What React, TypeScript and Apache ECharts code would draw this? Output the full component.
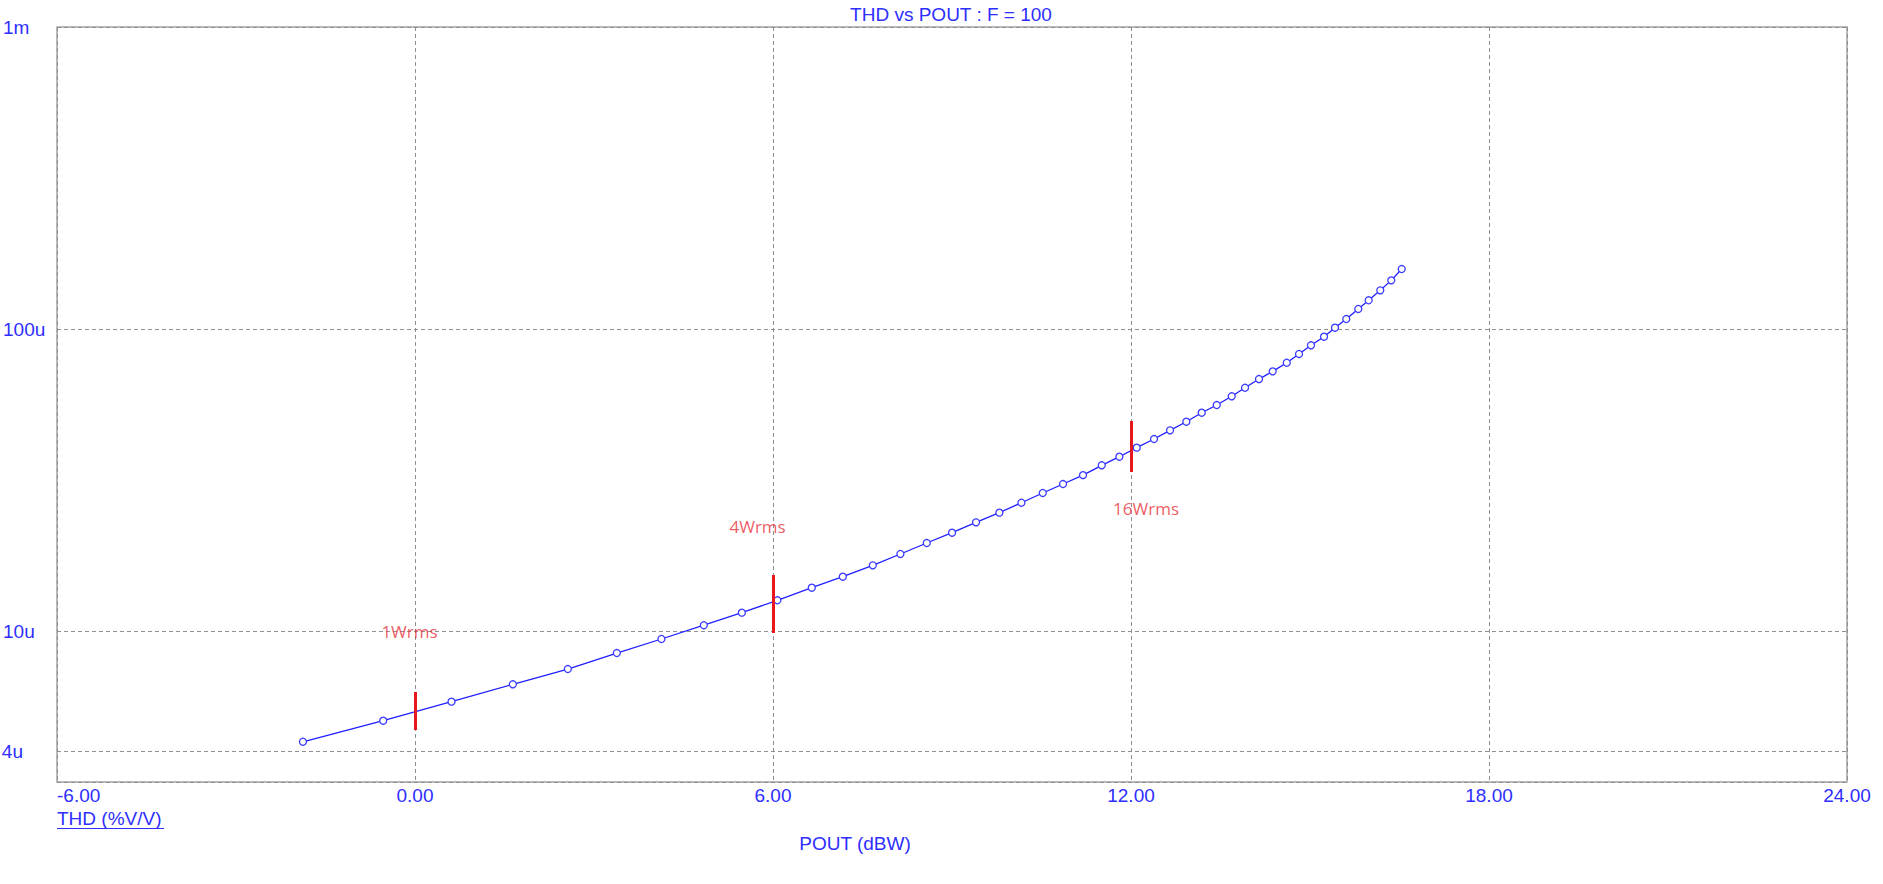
import React, { useEffect, useRef } from "react";
import * as echarts from "echarts";

// ---- data ----
const pout = [
  -1.878, -0.533, 0.612, 1.64, 2.562, 3.383, 4.13, 4.841, 5.478, 6.074,
  6.65, 7.17, 7.673, 8.135, 8.577, 9.001, 9.403, 9.794, 10.163, 10.521,
  10.861, 11.196, 11.51, 11.805, 12.096, 12.386, 12.654, 12.927, 13.185, 13.437,
  13.688, 13.911, 14.145, 14.375, 14.61, 14.816, 15.017, 15.235, 15.419, 15.608,
  15.809, 15.983, 16.178, 16.362, 16.537,
];
const thd = [
  4.298e-6, 5.047e-6, 5.834e-6, 6.661e-6, 7.483e-6, 8.455e-6, 9.408e-6, 1.045e-5, 1.15e-5, 1.264e-5,
  1.391e-5, 1.513e-5, 1.65e-5, 1.799e-5, 1.956e-5, 2.116e-5, 2.29e-5, 2.465e-5, 2.659e-5, 2.864e-5,
  3.067e-5, 3.282e-5, 3.537e-5, 3.777e-5, 4.046e-5, 4.322e-5, 4.618e-5, 4.932e-5, 5.282e-5, 5.601e-5,
  5.986e-5, 6.389e-5, 6.827e-5, 7.24e-5, 7.731e-5, 8.265e-5, 8.831e-5, 9.43e-5, 1.01e-4, 1.079e-4,
  1.165e-4, 1.245e-4, 1.343e-4, 1.449e-4, 1.58e-4,
];

const markerPout = [0, 6, 12];
const markerLow = [4.7e-6, 9.85e-6, 3.361e-5];
const markerHigh = [6.281e-6, 1.532e-5, 4.96e-5];
const markerNames = ["1Wrms", "4Wrms", "16Wrms"];
const markerLabelPout = [-0.092, 5.742, 12.252];
const markerLabelThd = [1.0e-5, 2.226e-5, 2.535e-5];

const yTickValues = [1e-3, 1e-4, 1e-5, 4e-6];
const yTickLabels = ["1m", "100u", "10u", "4u"];
const yExtraGrid = [4e-6];
const xMin = -6;
const xMax = 24;
const xStep = 6;
const yMin = 3.1623e-6;
const yMax = 1e-3;

const titleText = "THD vs POUT : F = 100";
const xName = "POUT (dBW)";
const yName = "THD (%V/V)";

const BLUE = "#2e2eff";
const GRID = "#8f8f8f";
const FONT = "'Liberation Sans', Arial, sans-serif";

function yLabelFor(v: number): string {
  for (let i = 0; i < yTickValues.length; i++) {
    if (Math.abs(Math.log10(v) - Math.log10(yTickValues[i])) < 1e-4) return yTickLabels[i];
  }
  return "";
}

export default function App() {
  const ref = useRef<HTMLDivElement>(null);
  useEffect(() => {
    if (!ref.current) return;
    const chart = echarts.init(ref.current, undefined, { renderer: "svg" });
    chart.setOption({
      animation: false,
      backgroundColor: "#ffffff",
      grid: {
        left: 57,
        top: 27,
        right: 36,
        bottom: 102,
        show: true,
        borderColor: "#a3a3a3",
        borderWidth: 1.5,
        containLabel: false,
      },
      xAxis: {
        type: "value",
        min: xMin,
        max: xMax,
        interval: xStep,
        axisLine: { show: false },
        axisTick: { show: false },
        splitLine: { show: true, lineStyle: { color: GRID, type: [4, 3], width: 1 } },
        axisLabel: {
          color: BLUE,
          fontSize: 19,
          fontFamily: FONT,
          margin: 4,
          formatter: (v: number) => v.toFixed(2),
          alignMinLabel: "left",
        },
      },
      yAxis: {
        type: "log",
        min: yMin,
        max: yMax,
        axisLine: { show: false },
        axisTick: { show: false },
        splitLine: { show: true, lineStyle: { color: GRID, type: [4, 3], width: 1 } },
        axisLabel: {
          color: BLUE,
          fontSize: 19,
          fontFamily: FONT,
          align: "left",
          margin: 54,
          formatter: (v: number) => yLabelFor(v),
        },
      },
      graphic: [
        {
          type: "text",
          x: 951,
          y: 14,
          style: {
            text: titleText,
            fill: BLUE,
            font: `19px ${FONT}`,
            align: "center",
            verticalAlign: "middle",
          },
        },
        {
          type: "text",
          x: 855,
          y: 843,
          style: {
            text: xName,
            fill: BLUE,
            font: `19px ${FONT}`,
            align: "center",
            verticalAlign: "middle",
          },
        },
        {
          type: "text",
          x: 57,
          y: 818,
          style: {
            text: yName,
            fill: BLUE,
            font: `19px ${FONT}`,
            align: "left",
            verticalAlign: "middle",
          },
        },
        {
          type: "line",
          shape: { x1: 57, y1: 828.5, x2: 164, y2: 828.5 },
          style: { stroke: BLUE, lineWidth: 1 },
        },
      ],
      series: [
        {
          type: "line",
          data: [],
          z: 1,
          markLine: {
            silent: true,
            symbol: "none",
            animation: false,
            data: yExtraGrid.map((v) => [
              {
                coord: [xMin, v],
                lineStyle: { color: GRID, type: [4, 3], width: 1 },
                label: {
                  show: true,
                  position: "start",
                  distance: 34,
                  formatter: yLabelFor(v),
                  color: BLUE,
                  fontSize: 19,
                  fontFamily: FONT,
                },
              },
              { coord: [xMax, v] },
            ]),
          },
        },
        {
          type: "line",
          data: pout.map((x, i) => [x, thd[i]]),
          symbol: "circle",
          symbolSize: 7,
          showAllSymbol: true,
          lineStyle: { color: "#1f1fff", width: 1.3 },
          itemStyle: { color: "#ffffff", borderColor: "#3a3aff", borderWidth: 1.3 },
          z: 3,
        },
        {
          type: "line",
          data: [],
          z: 4,
          markLine: {
            silent: true,
            symbol: "none",
            animation: false,
            lineStyle: { color: "#e8161d", width: 3, type: "solid" },
            label: { show: false },
            data: markerPout.map((x, i) => [
              { coord: [x, markerLow[i]] },
              { coord: [x, markerHigh[i]] },
            ]),
          },
        },
        {
          type: "scatter",
          symbolSize: 0,
          z: 5,
          data: markerNames.map((n, i) => ({ name: n, value: [markerLabelPout[i], markerLabelThd[i]] })),
          label: {
            show: true,
            position: "inside",
            formatter: "{b}",
            color: "#e8323b",
            fontSize: 17,
            fontFamily: "'Open Sans', sans-serif",
          },
        },
      ],
    });
    return () => chart.dispose();
  }, []);
  return (
    <div
      ref={ref}
      style={{ position: "fixed", left: 0, top: 0, width: 1883, height: 884, background: "#fff" }}
    />
  );
}
